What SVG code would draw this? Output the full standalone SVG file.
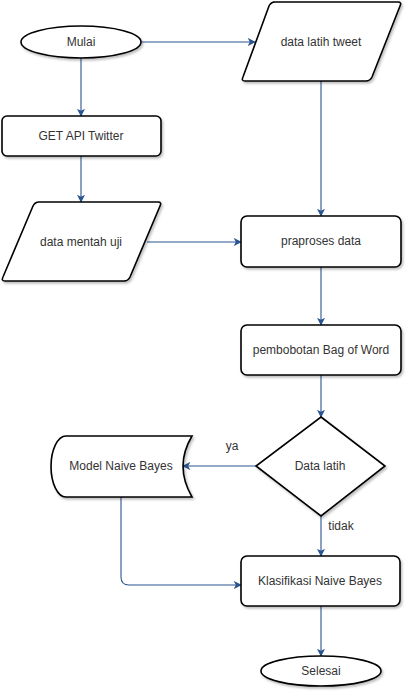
<svg xmlns="http://www.w3.org/2000/svg" width="413" height="698" viewBox="0 0 413 698">
<style>
.n{fill:#fff;stroke:#000;stroke-width:1.6;filter:url(#sh)}
.t{font-family:"Liberation Sans",Arial,sans-serif;font-size:12px;fill:#333;text-anchor:middle;dominant-baseline:central}
.e{fill:none;stroke:#2a5491;stroke-width:1.1;marker-end:url(#ar)}
</style>
<defs>
<filter id="sh" x="-10%" y="-10%" width="130%" height="140%">
<feDropShadow dx="1.5" dy="2" stdDeviation="1.2" flood-color="#000" flood-opacity="0.25"/>
</filter>
<marker id="ar" viewBox="0 0 10 10" refX="9" refY="5" markerWidth="8" markerHeight="8" markerUnits="userSpaceOnUse" orient="auto">
<path d="M0,0 L10,5 L0,10 L2.5,5 Z" fill="#2a5491"/>
</marker>
</defs>
<g id="connectors">
<path class="e" d="M142,42 H255"/>
<path class="e" d="M81,58 V116"/>
<path class="e" d="M81,156 V202"/>
<path class="e" d="M147,242 H241"/>
<path class="e" d="M321,81 V216"/>
<path class="e" d="M321,267 V325"/>
<path class="e" d="M321,375 V417"/>
<path class="e" d="M256,466 H183"/>
<path class="e" d="M321,516 V556"/>
<path class="e" d="M121,497 V577 Q121,585 129,585 H241"/>
<path class="e" d="M321,606 V656"/>
<text class="t" x="232" y="446">ya</text>
<text class="t" x="341" y="526">tidak</text>
</g>
<g id="mulai">
<ellipse class="n" cx="81" cy="42" rx="60" ry="16"/>
<text class="t" x="81" y="42">Mulai</text>
</g>
<g id="data-latih-tweet">
<path class="n" d="M273,2 H398 Q402,2 400,6 L372,77 Q370,81 366,81 H245 Q241,81 243,77 L269,6 Q271,2 275,2 Z"/>
<text class="t" x="321" y="42">data latih tweet</text>
</g>
<g id="get-api">
<rect class="n" x="2" y="116" width="159" height="40" rx="5"/>
<text class="t" x="81" y="136">GET API Twitter</text>
</g>
<g id="data-mentah-uji">
<path class="n" d="M38,202 H158 Q162,202 160,206 L130,277 Q128,281 124,281 H5 Q1,281 3,277 L33,206 Q35,202 39,202 Z"/>
<text class="t" x="81" y="242">data mentah uji</text>
</g>
<g id="praproses">
<rect class="n" x="241" y="216" width="160" height="51" rx="6"/>
<text class="t" x="321" y="241">praproses data</text>
</g>
<g id="pembobotan">
<rect class="n" x="241" y="325" width="160" height="50" rx="6"/>
<text class="t" x="321" y="350">pembobotan Bag of Word</text>
</g>
<g id="data-latih">
<path class="n" d="M321,417 L385,466 L321,516 L256,466 Z"/>
<text class="t" x="320" y="466">Data latih</text>
</g>
<g id="model-naive-bayes">
<path class="n" d="M66,436 H192 Q174,466 192,497 H66 A15,30.5 0 0 1 66,436 Z"/>
<text class="t" x="121" y="466">Model Naive Bayes</text>
</g>
<g id="klasifikasi">
<rect class="n" x="241" y="556" width="159" height="50" rx="6"/>
<text class="t" x="320" y="581">Klasifikasi Naive Bayes</text>
</g>
<g id="selesai">
<ellipse class="n" cx="321" cy="671" rx="60" ry="15"/>
<text class="t" x="321" y="671">Selesai</text>
</g>
</svg>
